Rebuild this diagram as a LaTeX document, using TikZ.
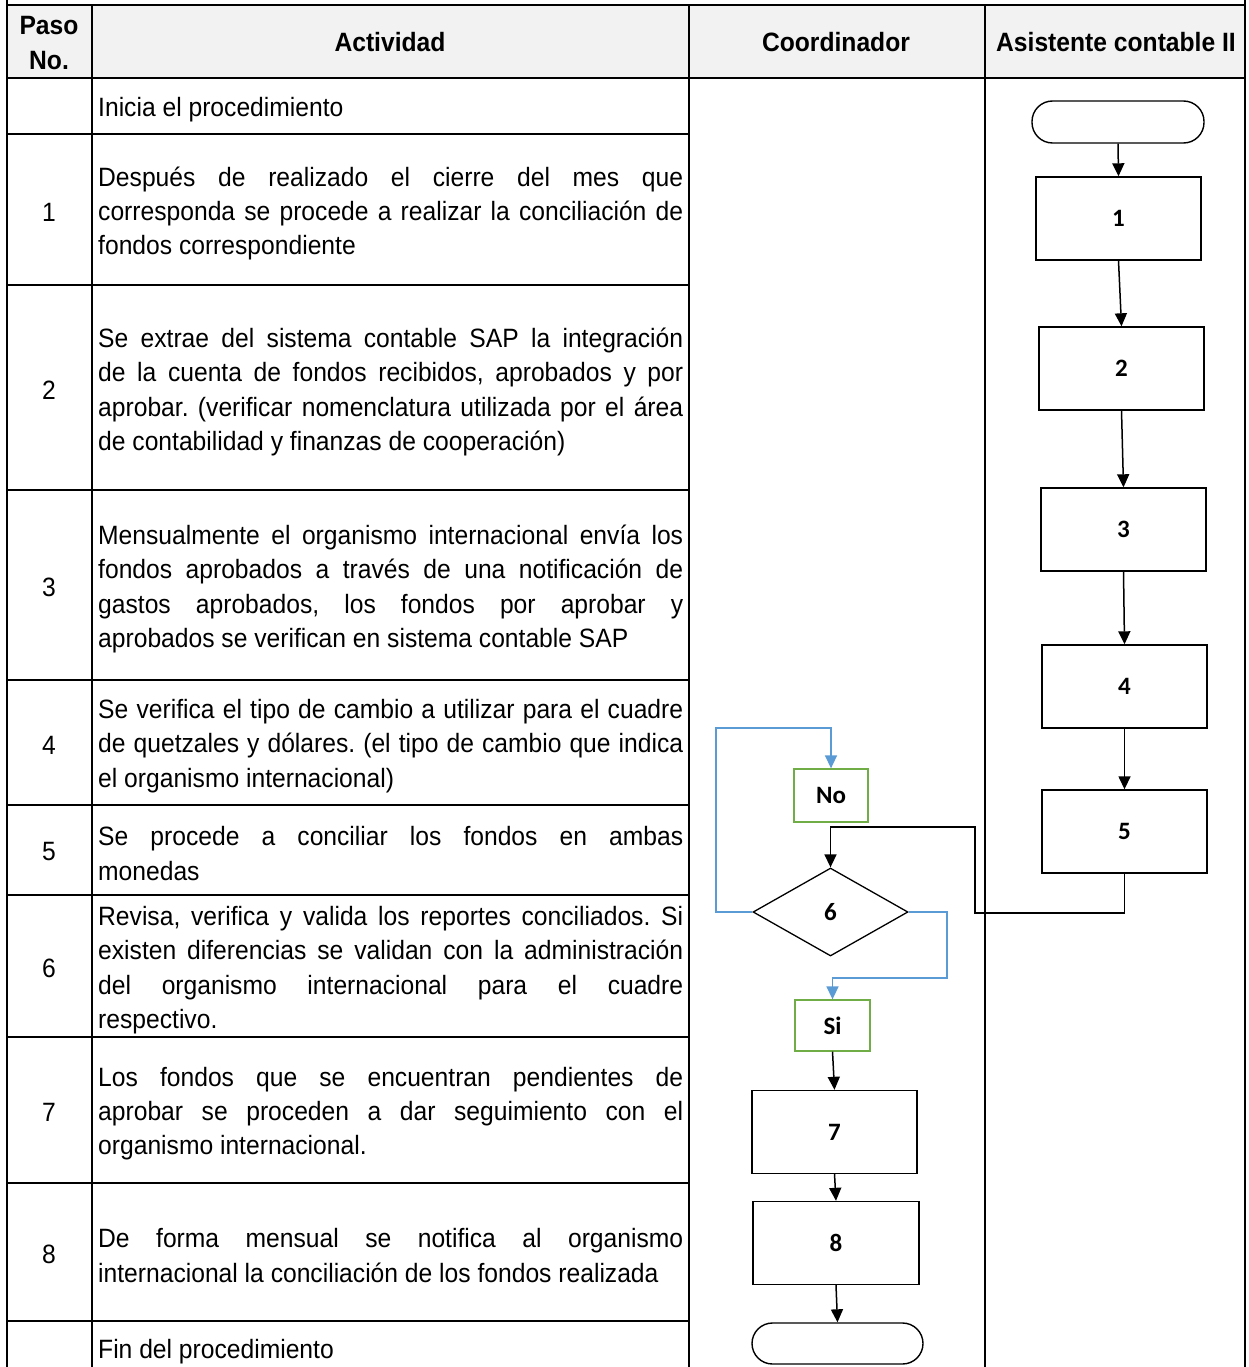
\documentclass[tikz,border=0pt]{standalone}
\usepackage{fontspec}
\setmainfont{Liberation Sans}[FakeStretch=0.93]
\newfontfamily\flowfont{Carlito}
\usetikzlibrary{arrows.meta,shapes.geometric}
\definecolor{hdrgrey}{HTML}{F2F2F2}
\definecolor{flowblue}{HTML}{5B9BD5}
\definecolor{flowgreen}{HTML}{70AD47}
\newcommand\celltxt{\fontsize{26.5}{34.3}\selectfont\frenchspacing}
\newcommand\flowtxt{\flowfont\fontsize{25}{29}\selectfont\bfseries}

\begin{document}
\begin{tikzpicture}[x=1pt,y=-1pt,
  gridline/.style={line width=2.4pt},
  rowline/.style={line width=2.1pt},
  desc/.style={anchor=west,inner sep=0pt,text width=585pt,align=justify,font=\celltxt},
  num/.style={inner sep=0pt,font=\celltxt},
  hdr/.style={inner sep=0pt,font=\celltxt\bfseries,align=center},
  proc/.style={draw,line width=1.4pt,minimum width=165pt,minimum height=83pt,inner sep=0pt,font=\flowtxt},
  term/.style={draw,line width=1.4pt,rounded corners=20.5pt,minimum width=172pt,minimum height=42pt,inner sep=0pt},
  decision/.style={draw,diamond,line width=1.3pt,minimum width=155pt,minimum height=88pt,inner sep=0pt,font=\flowtxt},
  answer/.style={draw=flowgreen,line width=1.3pt,inner sep=0pt,font=\flowtxt},
  flow/.style={line width=1.5pt,-{Triangle[length=13pt,width=12pt]}},
  bluflow/.style={draw=flowblue,line width=1.5pt,-{Triangle[length=13pt,width=12pt,fill=flowblue]}}
]
\useasboundingbox (0,0) rectangle (1248,1367);
\clip (0,0) rectangle (1248,1367);

% header band
\fill[hdrgrey] (7,5) rectangle (1245,78);

% table grid
\draw[gridline] (7,5) -- (1245,5);
\draw[gridline] (7,78) -- (1245,78);
\draw[gridline] (7,0) -- (7,1367);
\draw[gridline] (1245,0) -- (1245,1367);
\draw[gridline] (92,5) -- (92,1367);
\draw[gridline] (689,5) -- (689,1367);
\draw[gridline] (985,5) -- (985,1367);
\foreach \yy in {134,285,490,680,805,895,1037,1183,1321}
  \draw[rowline] (7,\yy) -- (689,\yy);

% header texts
\node[hdr] (hpaso) at (49,43) {Paso\\[0.05em]No.};
\node[hdr] (hact) at (390,42) {Actividad};
\node[hdr] (hcoord) at (836,42) {Coordinador};
\node[hdr] (hasis) at (1116,42) {Asistente contable II};

% step numbers
\node[num] (n1) at (49,212) {1};
\node[num] (n2) at (49,390) {2};
\node[num] (n3) at (49,587) {3};
\node[num] (n4) at (49,745) {4};
\node[num] (n5) at (49,852) {5};
\node[num] (n6) at (49,968) {6};
\node[num] (n7) at (49,1112) {7};
\node[num] (n8) at (49,1254) {8};

% activity descriptions
\node[desc] (d0) at (98,109.5) {Inicia el procedimiento};
\node[desc] (d1) at (98,213.5) {Después de realizado el cierre del mes que\linebreak corresponda se procede a realizar la conciliación de\linebreak fondos correspondiente};
\node[desc] (d2) at (98,392) {Se extrae del sistema contable SAP la integración\linebreak de la cuenta de fondos recibidos, aprobados y por\linebreak aprobar. (verificar nomenclatura utilizada por el área\linebreak de contabilidad y finanzas de cooperación)};
\node[desc] (d3) at (98,589) {Mensualmente el organismo internacional envía los\linebreak fondos aprobados a través de una notificación de\linebreak gastos aprobados, los fondos por aprobar y\linebreak aprobados se verifican en sistema contable SAP};
\node[desc] (d4) at (98,746) {Se verifica el tipo de cambio a utilizar para el cuadre\linebreak de quetzales y dólares. (el tipo de cambio que indica\linebreak el organismo internacional)};
\node[desc] (d5) at (98,853.5) {Se procede a conciliar los fondos en ambas\linebreak monedas};
\node[desc] (d6) at (98,970) {Revisa, verifica y valida los reportes conciliados. Si\linebreak existen diferencias se validan con la administración\linebreak del organismo internacional para el cuadre\linebreak respectivo.};
\node[desc] (d7) at (98,1113.5) {Los fondos que se encuentran pendientes de\linebreak aprobar se proceden a dar seguimiento con el\linebreak organismo internacional.};
\node[desc] (d8) at (98,1255.5) {De forma mensual se notifica al organismo\linebreak internacional la conciliación de los fondos realizada};
\node[desc] (d9) at (98,1351.5) {Fin del procedimiento};

% flowchart: Asistente contable II
\node[term] (ini) at (1118,122) {};
\node[proc] (b1) at (1118.5,218.5) {1};
\node[proc] (b2) at (1121.5,368.5) {2};
\node[proc] (b3) at (1123.5,529.5) {3};
\node[proc] (b4) at (1124.5,686.5) {4};
\node[proc] (b5) at (1124.5,831.5) {5};

% flowchart: Coordinador
\node[decision] (dec6) at (830.5,912) {6};
\node[answer,minimum width=74pt,minimum height=53pt] (no) at (831,795.5) {No};
\node[answer,minimum width=75pt,minimum height=51pt] (si) at (832.5,1025.5) {Si};
\node[proc] (b7) at (834.5,1132) {7};
\node[proc,minimum width=166pt] (b8) at (836,1243) {8};
\node[term,minimum width=171pt,minimum height=41pt] (fin) at (837.5,1343.5) {};

% connectors
\draw[flow] (ini.south) -- (b1.north);
\draw[flow] (b1.south) -- (b2.north);
\draw[flow] (b2.south) -- (b3.north);
\draw[flow] (b3.south) -- (b4.north);
\draw[flow] (b4.south) -- (b5.north);
\draw[flow] (b5.south) |- (975,913) |- (830.5,827) -- (dec6.north);
\draw[bluflow] (dec6.west) -| (716,728) -| (no.north);
\draw[bluflow] (dec6.east) -| (947,978) -| (si.north);
\draw[flow] (si.south) -- (b7.north);
\draw[flow] (b7.south) -- (b8.north);
\draw[flow] (b8.south) -- (fin.north);
\end{tikzpicture}
\end{document}
